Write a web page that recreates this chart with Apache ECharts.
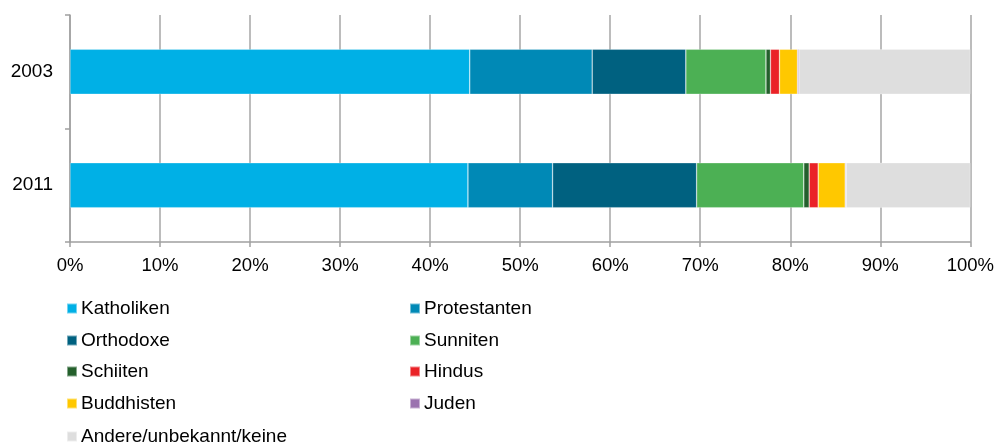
<!DOCTYPE html>
<html>
<head>
<meta charset="utf-8">
<script src="https://cdn.jsdelivr.net/npm/echarts@6/dist/echarts.min.js"></script>
<style>html,body{margin:0;padding:0;background:#fff}#c{width:997px;height:443px}</style>
</head>
<body>
<div id="c"></div>
<script>
const years = ['2003', '2011'];
const seriesNames = ['Katholiken','Protestanten','Orthodoxe','Sunniten','Schiiten','Hindus','Buddhisten','Juden','Andere/unbekannt/keine'];
const katholiken   = [44.4, 44.2];
const protestanten = [13.6, 9.4];
const orthodoxe    = [10.4, 16.0];
const sunniten     = [8.9, 11.9];
const schiiten     = [0.5, 0.6];
const hindus       = [1.0, 1.0];
const buddhisten   = [2.0, 3.0];
const juden        = [0.15, 0.1];
const andere       = [19.05, 13.8];
const xTicks = [0,10,20,30,40,50,60,70,80,90,100];

const values = [katholiken, protestanten, orthodoxe, sunniten, schiiten, hindus, buddhisten, juden, andere];
const colors = ['#00B0E6','#0089B6','#006180','#4CB054','#24602C','#EA2227','#FFC800','#9B73AF','#DEDEDE'];

const chart = echarts.init(document.getElementById('c'), null, {renderer: 'canvas'});
const font = 'Liberation Sans, Arial, sans-serif';

const series = seriesNames.map((n, i) => ({
  name: n,
  type: 'bar',
  stack: 'total',
  barWidth: 45,
  data: values[i],
  itemStyle: {color: colors[i], borderColor: 'rgba(255,255,255,0.45)', borderWidth: 0.6},
  emphasis: {disabled: true}
}));

// legend layout: two columns, row-major
const rowTops = [299, 331, 362, 394, 427];
const colLefts = [66, 409];
const legends = seriesNames.map((n, i) => ({
  data: [n],
  orient: 'horizontal',
  left: colLefts[i % 2],
  top: rowTops[Math.floor(i / 2)],
  itemWidth: 10,
  itemHeight: 10,
  icon: 'rect',
  selectedMode: false,
  padding: 0,
  textStyle: {fontFamily: font, fontSize: 19, color: '#000', padding: [0,0,0,-1]}
}));

chart.setOption({
  animation: false,
  grid: {left: 70, right: 26, top: 15, bottom: 201, containLabel: false},
  xAxis: {
    type: 'value',
    min: 0, max: 100, interval: 10,
    axisLine: {show: true, lineStyle: {color: '#A0A0A0', width: 1.5}},
    axisTick: {show: true, length: 5, lineStyle: {color: '#A0A0A0', width: 1.5}},
    splitLine: {show: true, lineStyle: {color: '#A6A6A6', width: 1.5}},
    axisLabel: {margin: 14, fontFamily: font, fontSize: 18.5, color: '#000',
      formatter: v => xTicks.includes(v) ? v + '%' : ''}
  },
  yAxis: {
    type: 'category',
    data: years,
    inverse: true,
    axisLine: {show: true, lineStyle: {color: '#A0A0A0', width: 1.5}},
    axisTick: {show: true, length: 5, lineStyle: {color: '#A0A0A0', width: 1.5}},
    axisLabel: {margin: 17, fontFamily: font, fontSize: 19, color: '#000'}
  },
  legend: legends,
  series: series
});
</script>
</body>
</html>
